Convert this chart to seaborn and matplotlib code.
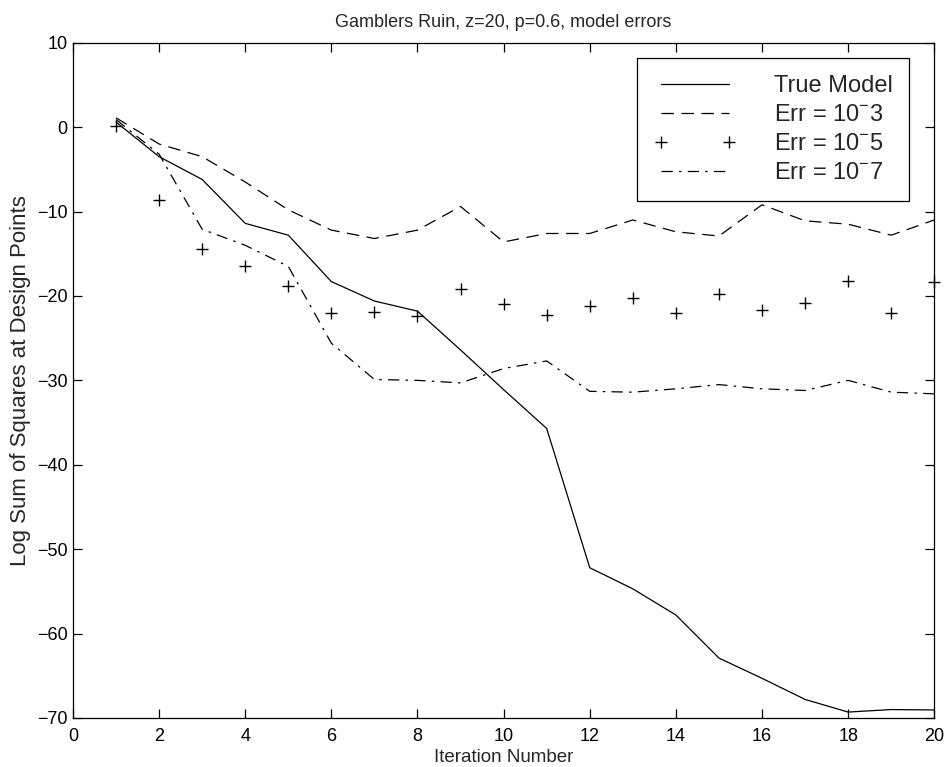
import numpy as np
import pandas as pd
import matplotlib
matplotlib.use('Agg')
import matplotlib.pyplot as plt
import seaborn as sns

# values
iterations = list(range(1, 21))
true_model = [0.6, -3.5, -6.2, -11.4, -12.8, -18.3, -20.6, -21.8, -26.4, -31.1,
              -35.7, -52.2, -54.7, -57.8, -62.9, -65.3, -67.8, -69.3, -69.0, -69.05]
err_1e3 = [1.1, -2.0, -3.5, -6.5, -9.8, -12.2, -13.2, -12.2, -9.4, -13.6,
           -12.6, -12.6, -11.0, -12.4, -12.9, -9.2, -11.1, -11.5, -12.8, -11.0]
err_1e5 = [0.15, -8.6, -14.4, -16.4, -18.8, -22.0, -21.9, -22.4, -19.2, -21.0,
           -22.2, -21.2, -20.2, -22.0, -19.8, -21.7, -20.8, -18.2, -22.0, -18.4]
err_1e7 = [0.9, -3.2, -12.1, -14.0, -16.5, -25.6, -29.9, -30.0, -30.3, -28.6,
           -27.7, -31.3, -31.4, -31.0, -30.5, -31.0, -31.2, -30.0, -31.4, -31.6]

labels = ['True Model', r'Err = 10$^{-}$3', r'Err = 10$^{-}$5', r'Err = 10$^{-}$7']
x_ticks = list(range(0, 21, 2))
y_ticks = list(range(-70, 11, 10))

sns.set_style('ticks')
plt.rcParams['font.family'] = ['Liberation Sans', 'DejaVu Sans']
plt.rcParams['mathtext.fontset'] = 'custom'
plt.rcParams['mathtext.rm'] = 'Liberation Sans'
plt.rcParams['axes.edgecolor'] = 'black'
plt.rcParams['axes.linewidth'] = 0.9

df = pd.DataFrame({'it': iterations, 'true': true_model, 'e3': err_1e3,
                   'e5': err_1e5, 'e7': err_1e7})

fig = plt.figure(figsize=(9.44, 7.67), dpi=100)
ax = fig.add_axes([0.0773, 0.0639, 0.9124, 0.8804])

sns.lineplot(data=df, x='it', y='true', color='black', lw=0.9,
             label=labels[0], ax=ax)
sns.lineplot(data=df, x='it', y='e3', color='black', lw=0.9,
             linestyle=(0, (10, 6)), label=labels[1], ax=ax)
sns.lineplot(data=df, x='it', y='e5', color='black', linestyle='none',
             marker='+', markersize=8.5, markeredgewidth=1.0,
             markeredgecolor='black', clip_on=False,
             label=labels[2], ax=ax)
sns.lineplot(data=df, x='it', y='e7', color='black', lw=0.9,
             linestyle=(0, (9, 5, 2, 5)), label=labels[3], ax=ax)

ax.set_xlim(0, 20)
ax.set_ylim(-70, 10)
ax.set_xticks(x_ticks)
ax.set_yticks(y_ticks)
ax.tick_params(direction='in', length=6.5, width=0.9, top=True, right=True,
               labelsize=13, colors='black')
ax.tick_params(axis='x', pad=7)
ax.tick_params(axis='y', pad=4)
for s in ax.spines.values():
    s.set_visible(True)

ax.set_title('Gamblers Ruin, z=20, p=0.6, model errors', fontsize=13, pad=11)
ax.set_xlabel('Iteration Number', fontsize=13.5, labelpad=3)
ax.set_ylabel('Log Sum of Squares at Design Points', fontsize=16, labelpad=4)

leg = ax.legend(loc='upper right', bbox_to_anchor=(0.971, 0.977),
                borderaxespad=0, fontsize=17, numpoints=2, handlelength=3.5,
                handletextpad=1.6, labelspacing=0.3, borderpad=0.7,
                fancybox=False, framealpha=1, edgecolor='black')
leg.get_frame().set_linewidth(0.9)

plt.savefig('out.png', dpi=100)
plt.close()
